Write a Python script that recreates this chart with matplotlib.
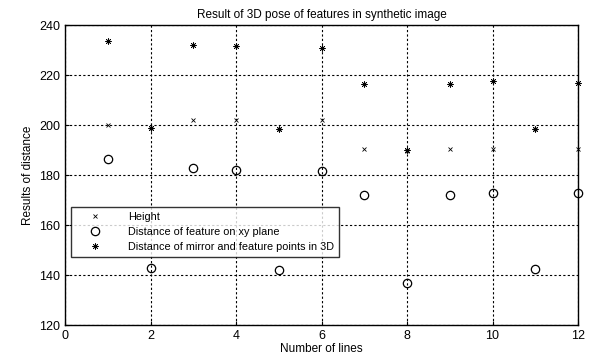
import numpy as np
import matplotlib
matplotlib.use('Agg')
import matplotlib.pyplot as plt

lines = [1, 2, 3, 4, 5, 6, 7, 8, 9, 10, 11, 12]
height = [200, 199, 202, 202, 198.5, 202, 190.5, 189.5, 190.5, 190.5, 198.5, 190.5]
dist_xy = [186.5, 143, 183, 182, 142, 181.5, 172, 137, 172, 173, 142.5, 173]
dist_3d = [233.5, 199, 232, 231.5, 198.5, 231, 216.5, 190, 216.5, 217.5, 198.5, 217]

plt.rcParams['font.family'] = ['Liberation Sans', 'DejaVu Sans']
plt.rcParams['font.size'] = 8

fig = plt.figure(figsize=(5.89, 3.58), dpi=100)
ax = fig.add_axes([65 / 589, 1 - 325 / 358, 513 / 589, 300 / 358])

ax.plot(lines, height, linestyle='none', marker='x', color='black',
        markersize=3.5, markeredgewidth=0.6, label='Height', clip_on=False)
ax.plot(lines, dist_xy, linestyle='none', marker='o', color='black',
        markerfacecolor='none', markersize=6, markeredgewidth=0.9,
        label='Distance of feature on xy plane', clip_on=False)
ax.plot(lines, dist_3d, linestyle='none', marker=(8, 2, 0), color='black',
        markersize=4.5, markeredgewidth=0.5,
        label='Distance of mirror and feature points in 3D', clip_on=False)

ax.set_xlim(0, 12)
ax.set_ylim(120, 240)
ax.set_xticks(np.arange(0, 13, 2))
ax.set_yticks(np.arange(120, 241, 20))
ax.grid(True, color='black', linestyle=(0, (2, 2)), linewidth=0.8)
ax.tick_params(direction='in', length=3, width=0.8, labelsize=9)
for s in ax.spines.values():
    s.set_linewidth(1.0)

ax.set_title('Result of 3D pose of features in synthetic image', fontsize=8.5, pad=5)
ax.set_xlabel('Number of lines', fontsize=8.5, labelpad=1)
ax.set_ylabel('Results of distance', fontsize=8.5)

leg = ax.legend(loc='lower left', bbox_to_anchor=(0.012, 0.228), fontsize=7.8,
                frameon=True, fancybox=False, edgecolor='black',
                handlelength=3.5, handletextpad=1.3, borderpad=0.45,
                labelspacing=0.45, borderaxespad=0)
leg.get_frame().set_linewidth(1.0)

fig.savefig('out.png', dpi=100)
